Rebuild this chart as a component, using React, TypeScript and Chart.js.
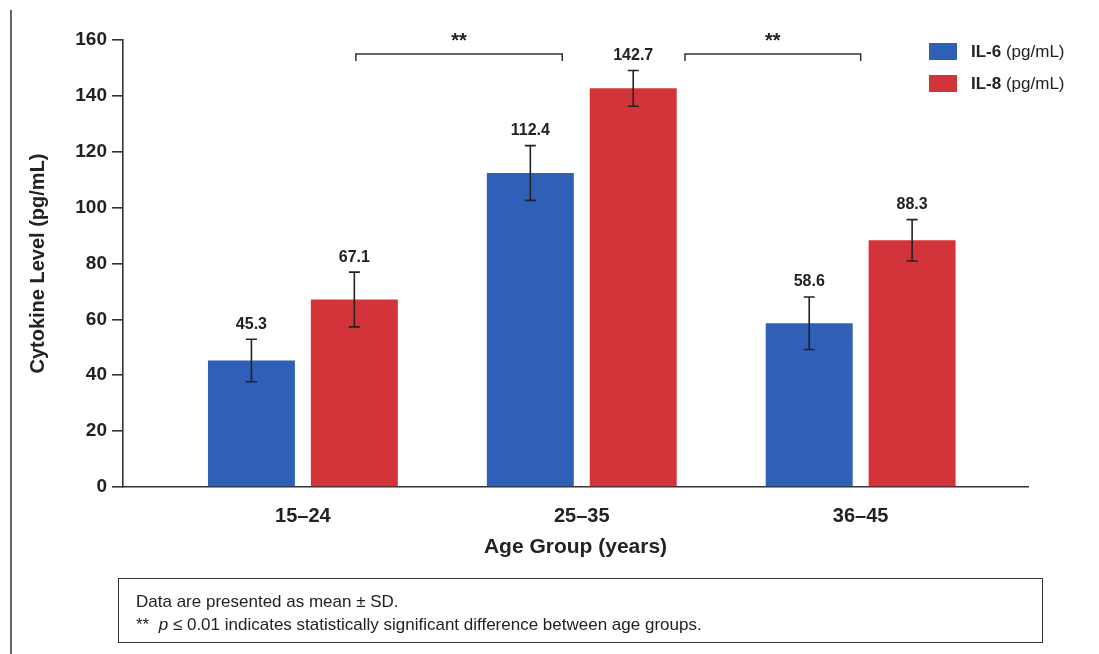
import React, { useEffect, useRef } from 'react';
import { Chart, registerables } from 'chart.js';
Chart.register(...registerables);

// ---- data ----
const categories = ['15–24', '25–35', '36–45'];
const seriesNames = ['IL-6', 'IL-8'];
const seriesUnit = '(pg/mL)';
const il6Mean = [45.3, 112.4, 58.6];
const il6Sd = [7.6, 9.8, 9.4];
const il8Mean = [67.1, 142.7, 88.3];
const il8Sd = [9.8, 6.4, 7.4];
const yMin = 0;
const yMax = 160;
const yStep = 20;
const brackets = [
  { from: 0.19, to: 0.93, y: 155, text: '**' },
  { from: 1.37, to: 2.0, y: 155, text: '**' },
];
const footnoteLine1 = 'Data are presented as mean ± SD.';
const footnoteLine2 = 'indicates statistically significant difference between age groups.';

// ---- style ----
const SANS = "'Liberation Sans', Arial, sans-serif";
const INK = '#222222';
const BLUE = '#2F5FB6';
const RED = '#D2343A';
const means = [il6Mean, il8Mean];
const sds = [il6Sd, il8Sd];
const colors = [BLUE, RED];

const overlayPlugin = {
  id: 'overlay',
  afterDatasetsDraw(chart: any) {
    const ctx = chart.ctx;
    const ys = chart.scales.y;
    const xs = chart.scales.x;
    ctx.save();
    chart.data.datasets.forEach((_: any, di: number) => {
      const meta = chart.getDatasetMeta(di);
      meta.data.forEach((bar: any, i: number) => {
        const v = means[di][i];
        const sd = sds[di][i];
        const x = bar.x;
        const top = ys.getPixelForValue(v + sd);
        const bot = ys.getPixelForValue(v - sd);
        ctx.strokeStyle = INK;
        ctx.lineWidth = 1.6;
        ctx.beginPath();
        ctx.moveTo(x, top); ctx.lineTo(x, bot);
        ctx.moveTo(x - 5.5, top); ctx.lineTo(x + 5.5, top);
        ctx.moveTo(x - 5.5, bot); ctx.lineTo(x + 5.5, bot);
        ctx.stroke();
        ctx.fillStyle = INK;
        ctx.font = `bold 16px ${SANS}`;
        ctx.textAlign = 'center';
        ctx.textBaseline = 'bottom';
        ctx.fillText(v.toFixed(1), x, top - 7);
      });
    });
    // significance brackets
    brackets.forEach((b) => {
      const x1 = xs.getPixelForValue(b.from);
      const x2 = xs.getPixelForValue(b.to);
      const y = ys.getPixelForValue(b.y);
      ctx.strokeStyle = '#333';
      ctx.lineWidth = 1.5;
      ctx.beginPath();
      ctx.moveTo(x1, y + 7); ctx.lineTo(x1, y); ctx.lineTo(x2, y); ctx.lineTo(x2, y + 7);
      ctx.stroke();
      ctx.fillStyle = INK;
      ctx.font = `bold 20px ${SANS}`;
      ctx.textAlign = 'center';
      ctx.textBaseline = 'middle';
      ctx.fillText(b.text, (x1 + x2) / 2, y - 12);
    });
    ctx.restore();
  },
  afterDraw(chart: any) {
    const ctx = chart.ctx;
    const area = chart.chartArea;
    ctx.save();
    const bx = area.right - 99;
    chart.data.datasets.forEach((ds: any, di: number) => {
      const by = 43 + di * 32;
      ctx.fillStyle = ds.backgroundColor;
      ctx.fillRect(bx, by, 28, 17);
      ctx.textBaseline = 'middle';
      ctx.textAlign = 'left';
      ctx.fillStyle = INK;
      ctx.font = `bold 17px ${SANS}`;
      const tx = bx + 42;
      ctx.fillText(ds.label, tx, by + 9);
      const w = ctx.measureText(ds.label + ' ').width;
      ctx.font = `17px ${SANS}`;
      ctx.fillText(seriesUnit, tx + w, by + 9);
    });
    ctx.restore();
  },
};

export default function App() {
  const ref = useRef<HTMLCanvasElement | null>(null);
  useEffect(() => {
    if (!ref.current) return;
    const chart = new Chart(ref.current, {
      type: 'bar',
      data: {
        datasets: seriesNames.map((name, di) => ({
          label: name,
          data: means[di].map((v, i) => ({ x: i, y: v })),
          backgroundColor: colors[di],
          borderWidth: 0,
          categoryPercentage: 0.738,
          barPercentage: 0.845,
        })),
      },
      options: {
        animation: false,
        responsive: false,
        devicePixelRatio: 1,
        layout: { padding: { left: 0, right: 71, top: 40, bottom: 87 } },
        plugins: { legend: { display: false }, tooltip: { enabled: false } },
        scales: {
          x: {
            type: 'linear',
            min: -0.645,
            max: 2.6,
            offset: false,
            grid: { display: false, drawTicks: false },
            border: { display: true, color: '#333', width: 1.6 },
            ticks: {
              stepSize: 1,
              autoSkip: false,
              maxRotation: 0,
              padding: 17,
              color: INK,
              font: { family: SANS, size: 20, weight: 'bold' },
              callback: (v: any) => (Number.isInteger(v) && categories[v] !== undefined ? categories[v] : ''),
            },
            afterBuildTicks: (s: any) => {
              s.ticks = categories.map((_, i) => ({ value: i }));
            },
            title: {
              display: true,
              text: 'Age Group (years)',
              color: INK,
              font: { family: SANS, size: 21, weight: 'bold' },
              padding: { top: 0, bottom: 7 },
            },
            afterFit: (s: any) => { s.height = 80; },
          },
          y: {
            min: yMin,
            max: yMax,
            grid: { drawOnChartArea: false, drawTicks: true, tickLength: 11, color: '#333', lineWidth: 1.6 },
            border: { display: true, color: '#333', width: 1.6 },
            ticks: {
              stepSize: yStep,
              padding: 5,
              color: INK,
              font: { family: SANS, size: 19, weight: 'bold' },
            },
            title: {
              display: true,
              text: 'Cytokine Level (pg/mL)',
              color: INK,
              font: { family: SANS, size: 20, weight: 'bold' },
              padding: { top: 26, bottom: 0 },
            },
            afterFit: (s: any) => { s.width = 123; },
          },
        },
      },
      plugins: [overlayPlugin],
    } as any);
    return () => chart.destroy();
  }, []);

  return (
    <div style={{ position: 'fixed', left: 0, top: 0, width: 1099, height: 654, background: '#fff', overflow: 'hidden' }}>
      <div style={{ position: 'absolute', left: 10, top: 10, width: 2, height: 644, background: '#666' }} />
      <canvas ref={ref} width={1099} height={654} style={{ position: 'absolute', left: 0, top: 0, width: 1099, height: 654 }} />
      <div
        style={{
          position: 'absolute', left: 118, top: 578, width: 925, height: 65, boxSizing: 'border-box',
          border: '1.5px solid #333', paddingLeft: 17, paddingTop: 11, fontFamily: SANS, fontSize: 17,
          lineHeight: '23px', color: INK,
        }}
      >
        <div>{footnoteLine1}</div>
        <div>
          {'**\u00a0\u00a0'}<i>p</i>{' ≤ 0.01 '}{footnoteLine2}
        </div>
      </div>
    </div>
  );
}
